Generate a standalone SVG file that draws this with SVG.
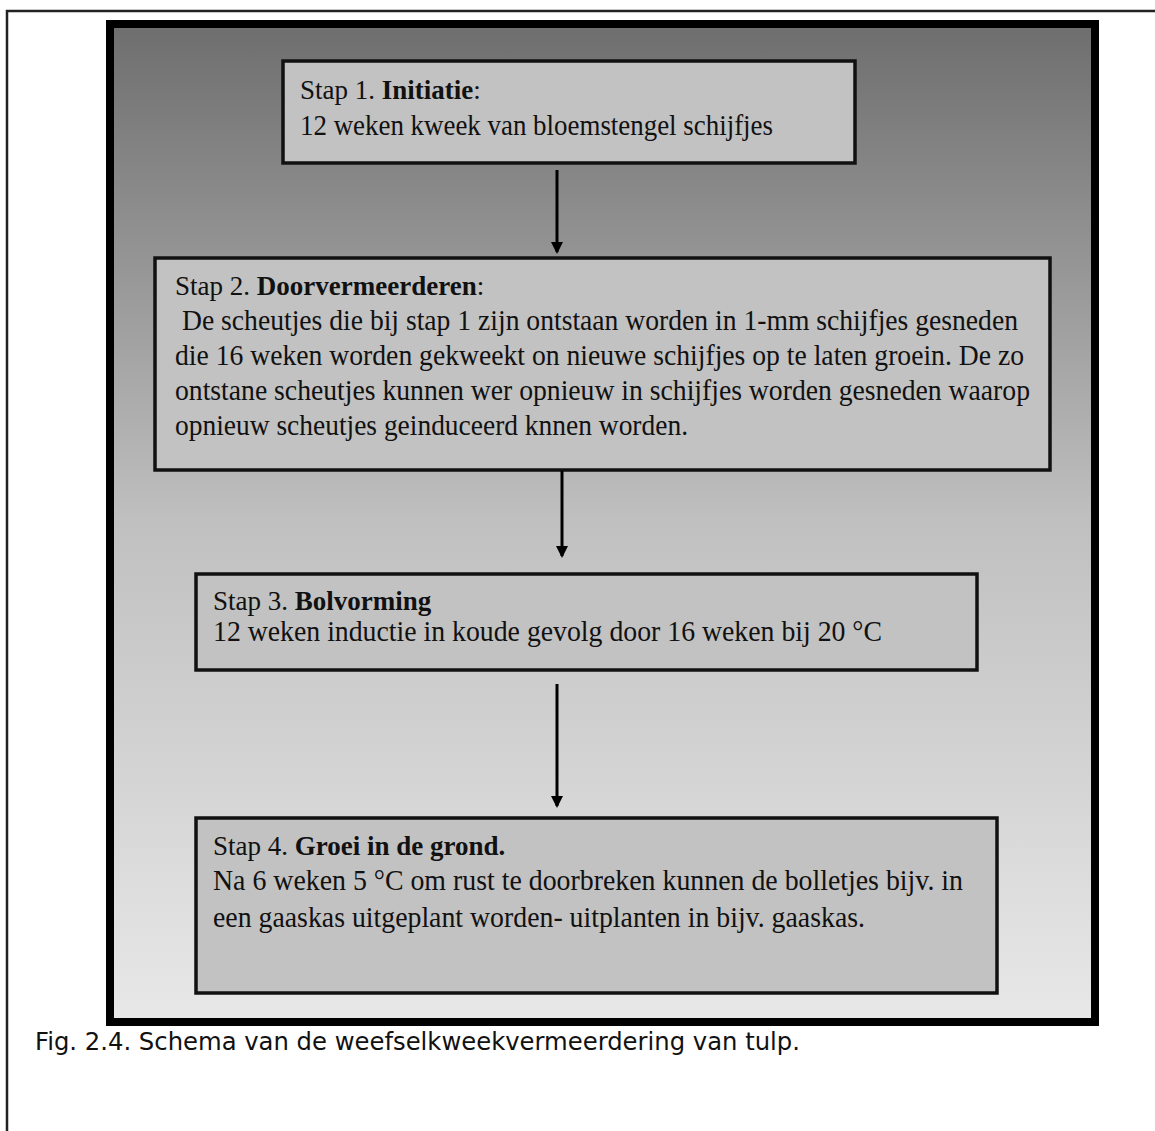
<svg xmlns="http://www.w3.org/2000/svg" width="1155" height="1131" viewBox="0 0 1155 1131">
<defs>
<linearGradient id="bg" x1="0" y1="0" x2="0" y2="1">
<stop offset="0" stop-color="#6e6e6e"/>
<stop offset="0.5" stop-color="#c0c0c0"/>
<stop offset="1" stop-color="#e8e8e8"/>
</linearGradient>
<marker id="ah" markerWidth="12" markerHeight="12" refX="10" refY="6" orient="auto" markerUnits="userSpaceOnUse">
<path d="M0,0 L12,6 L0,12 Z" fill="#000"/>
</marker>
<style>
.box{fill:#c2c2c2;stroke:#111;stroke-width:3.5}
.t{font-family:"Liberation Serif","Times New Roman",serif;font-size:29px;fill:#111}
.h{font-family:"Liberation Serif","Times New Roman",serif;font-size:27px;fill:#111}
.b{font-weight:bold}
.cap{font-family:"DejaVu Sans",Verdana,sans-serif;font-size:25px;fill:#111}
.conn{stroke:#000;stroke-width:3;fill:none}
</style>
</defs>
<rect width="1155" height="1131" fill="#fff"/>
<path d="M7,1131 V11 H1155" fill="none" stroke="#222" stroke-width="2.5"/>
<rect x="110" y="24" width="985" height="998" fill="url(#bg)" stroke="#000" stroke-width="8"/>
<g id="step1">
<rect class="box" x="283" y="61" width="572" height="102"/>
<text class="h" x="300" y="99">Stap 1. <tspan class="b">Initiatie</tspan>:</text>
<text class="t" x="300" y="135" textLength="473" lengthAdjust="spacingAndGlyphs">12 weken kweek van bloemstengel schijfjes</text>
</g>
<g id="step2">
<rect class="box" x="155" y="258" width="895" height="212"/>
<text class="h" x="175" y="295">Stap 2. <tspan class="b">Doorvermeerderen</tspan>:</text>
<text class="t" x="182" y="330" textLength="836" lengthAdjust="spacingAndGlyphs">De scheutjes die bij stap 1 zijn ontstaan worden in 1-mm schijfjes gesneden</text>
<text class="t" x="175" y="365" textLength="849" lengthAdjust="spacingAndGlyphs">die 16 weken worden gekweekt on nieuwe schijfjes op te laten groein. De zo</text>
<text class="t" x="175" y="400" textLength="855" lengthAdjust="spacingAndGlyphs">ontstane scheutjes kunnen wer opnieuw in schijfjes worden gesneden waarop</text>
<text class="t" x="175" y="435" textLength="513" lengthAdjust="spacingAndGlyphs">opnieuw scheutjes geinduceerd knnen worden.</text>
</g>
<g id="step3">
<rect class="box" x="196" y="574" width="781" height="96"/>
<text class="h" x="213" y="610">Stap 3. <tspan class="b">Bolvorming</tspan></text>
<text class="t" x="213" y="641" textLength="669" lengthAdjust="spacingAndGlyphs">12 weken inductie in koude gevolg door 16 weken bij 20 °C</text>
</g>
<g id="step4">
<rect class="box" x="196" y="818" width="801" height="175"/>
<text class="h" x="213" y="855">Stap 4. <tspan class="b">Groei in de grond.</tspan></text>
<text class="t" x="213" y="890" textLength="750" lengthAdjust="spacingAndGlyphs">Na 6 weken 5 °C om rust te doorbreken kunnen de bolletjes bijv. in</text>
<text class="t" x="213" y="927" textLength="652" lengthAdjust="spacingAndGlyphs">een gaaskas uitgeplant worden- uitplanten in bijv. gaaskas.</text>
</g>
<g id="connectors">
<line class="conn" x1="557" y1="170" x2="557" y2="252" marker-end="url(#ah)"/>
<line class="conn" x1="562" y1="471" x2="562" y2="556" marker-end="url(#ah)"/>
<line class="conn" x1="557" y1="684" x2="557" y2="806" marker-end="url(#ah)"/>
</g>
<text class="cap" x="35" y="1050" textLength="765" lengthAdjust="spacingAndGlyphs">Fig. 2.4. Schema van de weefselkweekvermeerdering van tulp.</text>
</svg>
